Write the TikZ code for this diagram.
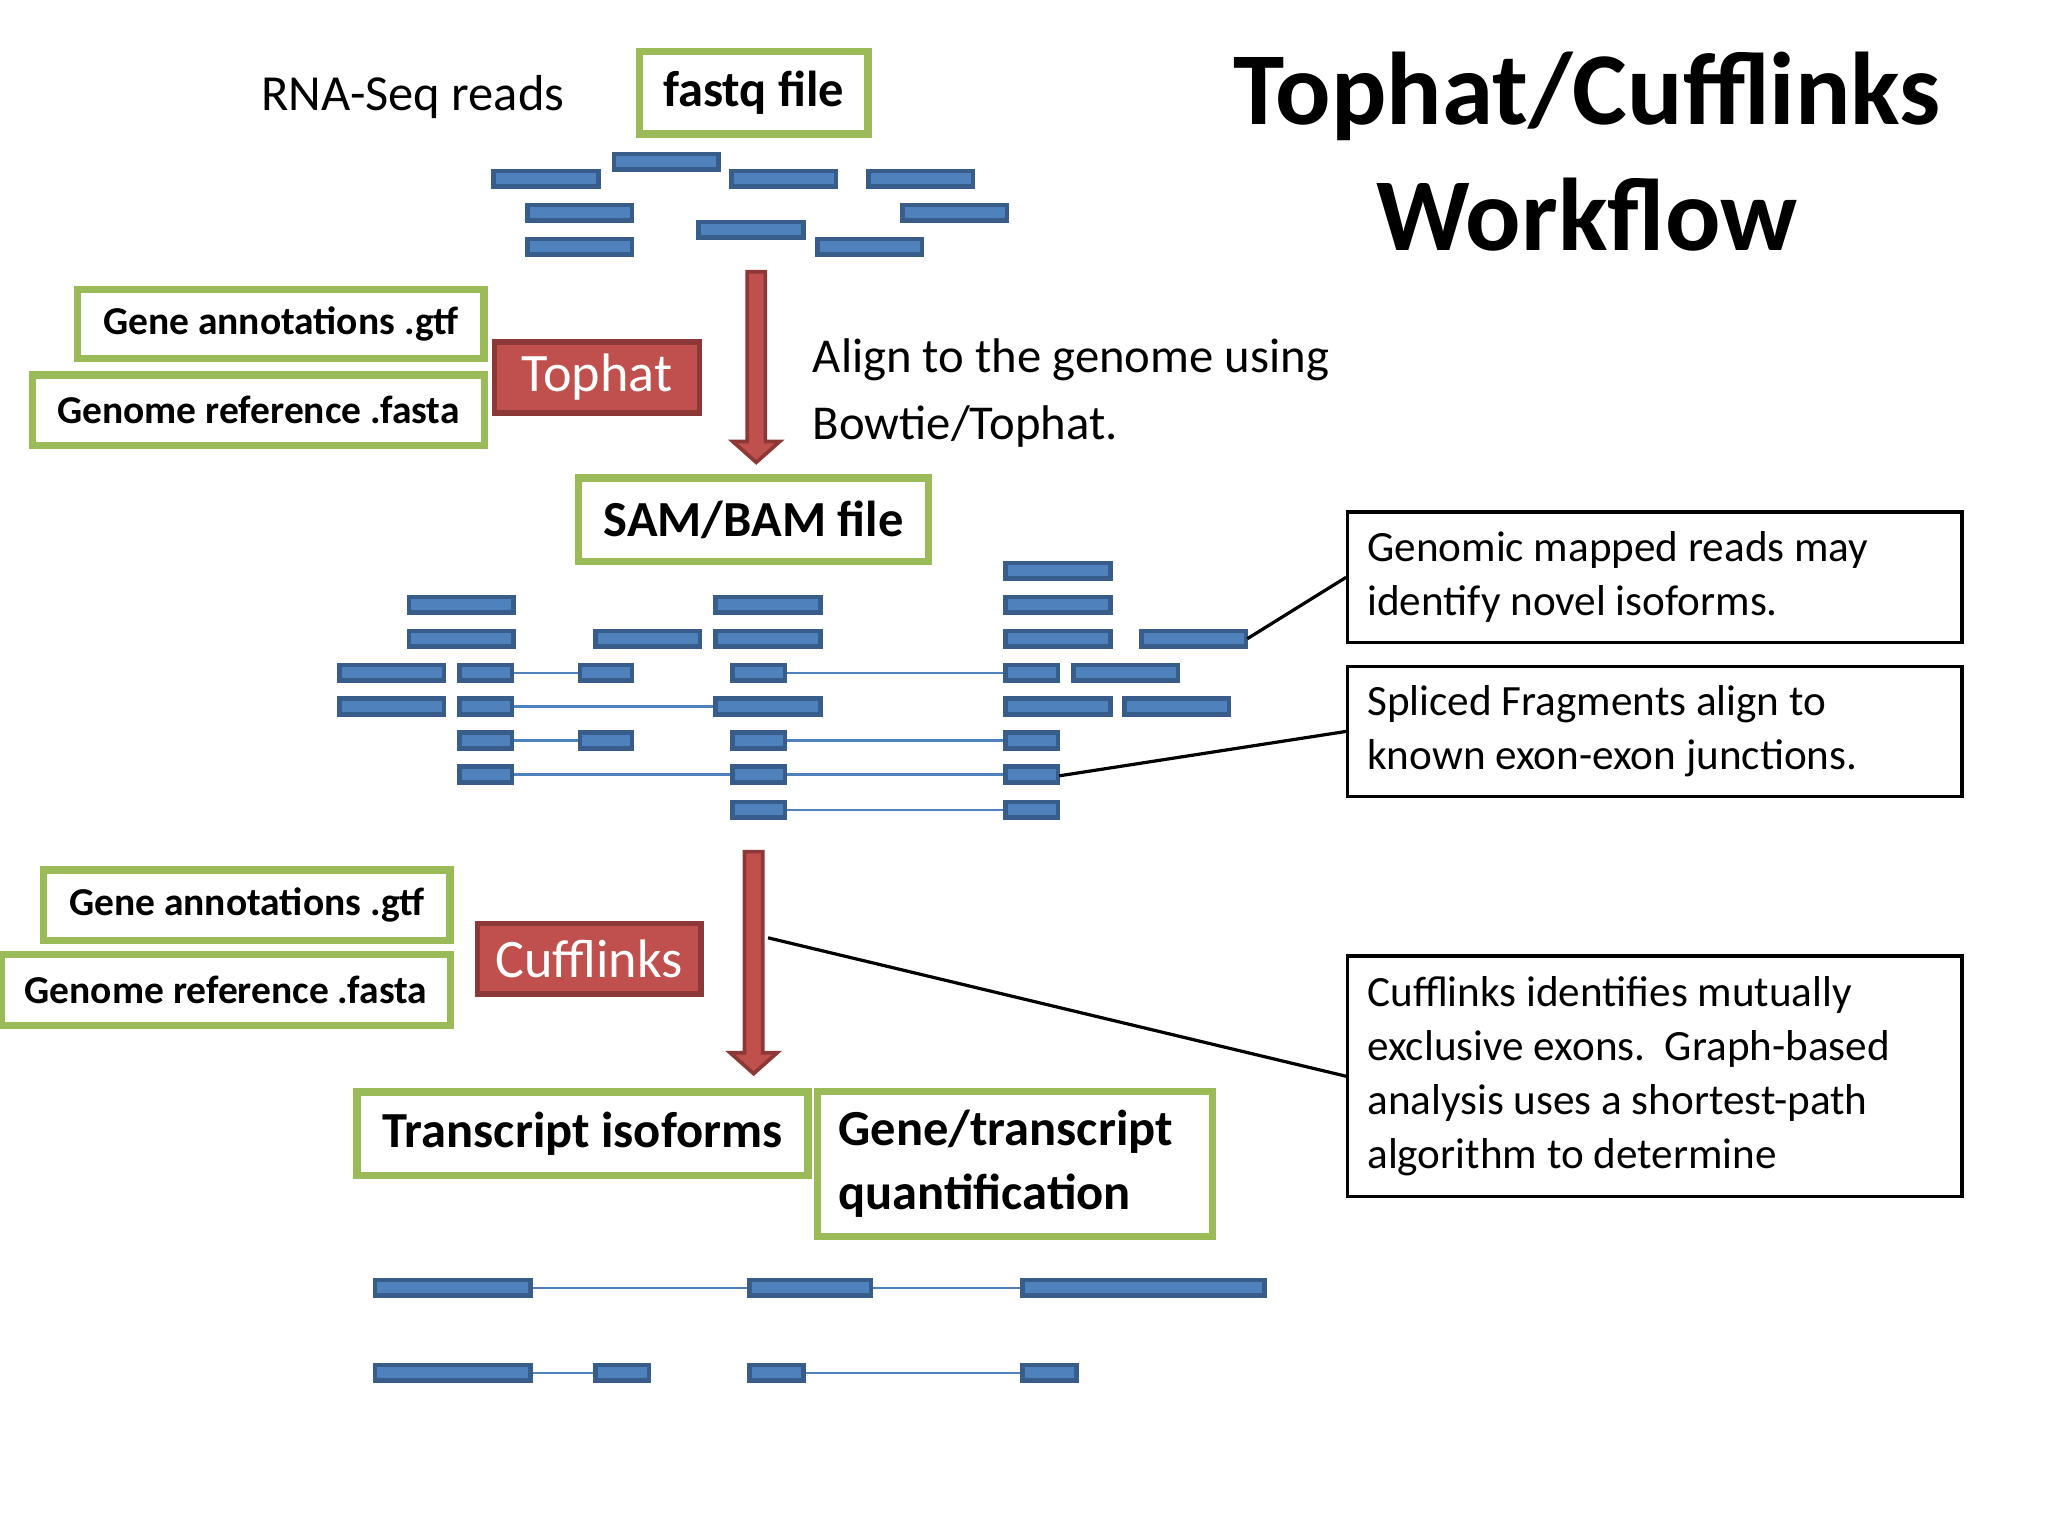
\documentclass[tikz,border=0pt]{standalone}
\usepackage{fontspec}
\setmainfont{Carlito}
\begin{document}
\begin{tikzpicture}[x=0.01cm,y=-0.01cm,
 gbox/.style={draw={rgb,255:red,155;green,187;blue,89}, line width=1.6pt, fill=white, inner sep=0pt, font=\bfseries},
 rbox/.style={draw={rgb,255:red,140;green,56;blue,54}, fill={rgb,255:red,192;green,80;blue,77}, line width=1.2pt, text=white, inner sep=0pt},
 kbox/.style={draw=black, line width=0.7pt, fill=white, inner sep=0pt, align=flush left, font=\fontsize{9.4}{11.8}\selectfont},
 read/.style={draw={rgb,255:red,56;green,93;blue,138}, fill={rgb,255:red,79;green,129;blue,189}, line width=1pt},
 intr/.style={draw={rgb,255:red,79;green,129;blue,189}, line width=0.5pt},
 fat/.style={draw={rgb,255:red,140;green,56;blue,54}, fill={rgb,255:red,192;green,80;blue,77}, line width=0.8pt}]
\useasboundingbox (0,0) rectangle (1568,1176);
\newcommand{\rd}[3]{\draw[read] (#1-40,#2-6) rectangle (#1+40,#2+6);}
\newcommand{\rr}[3]{\draw[read] (#1,#3-6) rectangle (#2,#3+6);}
\newcommand{\intron}[3]{\draw[intr] (#1,#3) -- (#2,#3);}
% title
\node (t1) at (1215,74) {\fontsize{22.5}{27}\selectfont\bfseries Tophat/Cufflinks};
\node (t2) at (1215,164) {\fontsize{22.5}{27}\selectfont\bfseries Workflow};
\node (rna) at (316,74) {\fontsize{11}{13}\selectfont RNA-Seq reads};
\node[gbox, minimum width=1.75cm, minimum height=0.63cm, font=\fontsize{11}{13}\selectfont\bfseries] (fq) at (577,71) {fastq file};
% top reads
\rd{418}{137}{}\rd{510}{124}{}\rd{600}{137}{}\rd{705}{137}{}
\rd{444}{163}{}\rd{731}{163}{}\rd{444}{189}{}\rd{575}{176}{}\rd{666}{189}{}
% tophat inputs
\node[gbox, minimum width=3.11cm, minimum height=0.53cm, font=\fontsize{8.6}{10}\selectfont\bfseries] (ga1) at (215,248) {Gene annotations .gtf};
\node[gbox, minimum width=3.46cm, minimum height=0.54cm, font=\fontsize{8.6}{10}\selectfont\bfseries] (gr1) at (198,314) {Genome reference .fasta};
\node[rbox, minimum width=1.57cm, minimum height=0.54cm, font=\fontsize{11.8}{14}\selectfont] (th) at (457,289) {Tophat};
\draw[fat] (572,208) -- (586,208) -- (586,338) -- (597,338) -- (579,354) -- (561,338) -- (572,338) -- cycle;
\node[anchor=west, align=left, font=\fontsize{10.6}{14.5}\selectfont] (al) at (610,301) {Align to the genome using\\Bowtie/Tophat.};
\node[gbox, minimum width=2.68cm, minimum height=0.64cm, font=\fontsize{11}{13}\selectfont\bfseries] (sam) at (577,398) {SAM/BAM file};
% mapped reads
\rr{770}{850}{437}
\rr{313}{393}{463}\rr{548}{628}{463}\rr{770}{850}{463}
\rr{313}{393}{489}\rr{456}{536}{489}\rr{548}{628}{489}\rr{770}{850}{489}\rr{874}{954}{489}
\intron{392}{444}{515}\intron{601}{770}{515}
\rr{260}{340}{515}\rr{352}{392}{515}\rr{444}{484}{515}\rr{561}{601}{515}\rr{770}{810}{515}\rr{822}{902}{515}
\intron{392}{548}{541}
\rr{260}{340}{541}\rr{352}{392}{541}\rr{548}{628}{541}\rr{770}{850}{541}\rr{861}{941}{541}
\intron{392}{444}{567}\intron{601}{770}{567}
\rr{352}{392}{567}\rr{444}{484}{567}\rr{561}{601}{567}\rr{770}{810}{567}
\intron{392}{561}{593}\intron{601}{770}{593}
\rr{352}{392}{593}\rr{561}{601}{593}\rr{770}{810}{593}
\intron{601}{770}{620}
\rr{561}{601}{620}\rr{770}{810}{620}
\coordinate (r1) at (955,489);
\coordinate (r2) at (811,594);
\coordinate (ar) at (588,718);
% comment boxes
\node[kbox, minimum width=4.7cm, minimum height=1.0cm, text width=4.4cm] (k1) at (1267,442) {Genomic mapped reads may\\identify novel isoforms.};
\node[kbox, minimum width=4.7cm, minimum height=0.99cm, text width=4.4cm] (k2) at (1267,560) {Spliced Fragments align to\\known exon-exon junctions.};
\node[kbox, minimum width=4.7cm, minimum height=1.84cm, text width=4.4cm] (k3) at (1267,824) {Cufflinks identifies mutually\\exclusive exons.\ \ Graph-based\\analysis uses a shortest-path\\algorithm to determine};
\draw[line width=0.7pt] (r1) -- (k1.west);
\draw[line width=0.7pt] (r2) -- (k2.west);
\draw[line width=0.7pt] (ar) -- (k3.west);
% cufflinks inputs
\node[gbox, minimum width=3.11cm, minimum height=0.54cm, font=\fontsize{8.6}{10}\selectfont\bfseries] (ga2) at (189,693) {Gene annotations .gtf};
\node[gbox, minimum width=3.44cm, minimum height=0.54cm, font=\fontsize{8.6}{10}\selectfont\bfseries] (gr2) at (173,758) {Genome reference .fasta};
\node[rbox, minimum width=1.71cm, minimum height=0.54cm, font=\fontsize{11.8}{14}\selectfont] (cf) at (451,734) {Cufflinks};
\draw[fat] (570,652) -- (584,652) -- (584,806) -- (595,806) -- (577,822) -- (559,806) -- (570,806) -- cycle;
\node[gbox, minimum width=3.45cm, minimum height=0.64cm, font=\fontsize{11}{13}\selectfont\bfseries] (ti) at (446,868) {Transcript isoforms};
\node[gbox, minimum width=3.02cm, minimum height=1.11cm, font=\fontsize{11}{14}\selectfont\bfseries, align=left, text width=2.7cm] (gq) at (777,891) {Gene/transcript\\quantification};
% bottom transcripts
\intron{406}{574}{986}\intron{667}{783}{986}
\rr{287}{406}{986}\rr{574}{667}{986}\rr{783}{968}{986}
\intron{406}{456}{1051}\intron{615}{783}{1051}
\rr{287}{406}{1051}\rr{456}{497}{1051}\rr{574}{615}{1051}\rr{783}{824}{1051}
\end{tikzpicture}
\end{document}
